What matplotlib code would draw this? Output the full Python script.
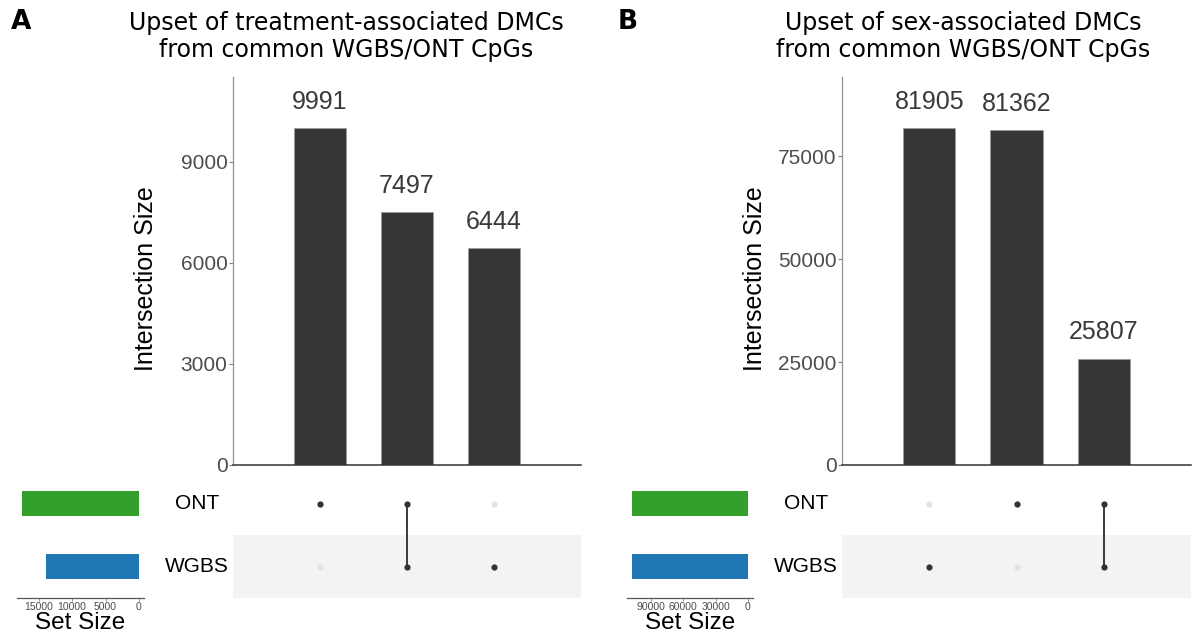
import matplotlib
matplotlib.use("Agg")
import matplotlib.pyplot as plt
import matplotlib.transforms as mtransforms

# ---- data ----
set_names = ["ONT", "WGBS"]
set_colors = ["#33a02c", "#1f78b4"]

a_sizes = [9991, 7497, 6444]
a_members = [["ONT"], ["ONT", "WGBS"], ["WGBS"]]
a_yticks = [0, 3000, 6000, 9000]
a_setticks = [0, 5000, 10000, 15000]

b_sizes = [81905, 81362, 25807]
b_members = [["WGBS"], ["ONT"], ["ONT", "WGBS"]]
b_yticks = [0, 25000, 50000, 75000]
b_setticks = [0, 30000, 60000, 90000]

W, H = 1192, 639
NUM_FONT = "Liberation Sans"
DARK = "#363636"
TICK_GREY = "#4d4d4d"


def fx(px):
    return px / W


def fy(py):
    return 1 - py / H


def draw_panel(fig, sizes, members, yticks, setticks, ylim_top, set_xlim,
               bar_left, bar_right, set_left, set_right, title, title_x,
               letter, letter_x):
    # intersection bars
    ax = fig.add_axes([fx(bar_left), fy(465), fx(bar_right - bar_left), (465 - 77) / H])
    xs = list(range(len(sizes)))
    ax.bar(xs, sizes, width=0.6, color=DARK, edgecolor="#9a9a9a", linewidth=0.4)
    for x, v in zip(xs, sizes):
        ax.annotate(str(v), (x, v), xytext=(0, 19), textcoords="offset points",
                    ha="center", va="center", fontsize=18, family=NUM_FONT,
                    color="#3a3a3a")
    ax.set_xlim(-1, len(sizes))
    ax.set_ylim(0, ylim_top)
    ax.set_xticks([])
    ax.set_yticks(yticks)
    ax.set_yticklabels([str(t) for t in yticks], family=NUM_FONT, fontsize=15,
                       color=TICK_GREY)
    ax.tick_params(axis="y", length=3, width=0.8, color="#808080", pad=1)
    for s in ["top", "right"]:
        ax.spines[s].set_visible(False)
    ax.spines["left"].set_color("#909090")
    ax.spines["left"].set_linewidth(0.9)
    ax.spines["bottom"].set_color("#333333")
    ax.spines["bottom"].set_linewidth(1.1)
    ax.set_ylabel("Intersection Size", family=NUM_FONT, fontsize=18, color="black")
    ax.yaxis.set_label_coords(-0.215, 0.48)

    # matrix
    mx = fig.add_axes([fx(bar_left), fy(598), fx(bar_right - bar_left), 126 / H])
    rows = {name: len(set_names) - 1 - i for i, name in enumerate(set_names)}
    mx.axhspan(-0.5, 0.5, color="#f3f3f3", zorder=0, lw=0)
    for x, mem in zip(xs, members):
        for name in set_names:
            mx.scatter([x], [rows[name]], s=20, color="#e3e3e3", zorder=2, lw=0)
        ys = [rows[m] for m in mem]
        if len(ys) > 1:
            mx.plot([x, x], [min(ys), max(ys)], color="#3a3a3a", lw=1.4, zorder=3)
        mx.scatter([x] * len(ys), ys, s=20, color="#333333", zorder=4, lw=0)
    mx.set_xlim(-1, len(sizes))
    mx.set_ylim(-0.5, len(set_names) - 0.5)
    mx.axis("off")
    trans = mtransforms.blended_transform_factory(mx.transAxes, mx.transData)
    label_x = (set_right + 53 - bar_left) / (bar_right - bar_left)
    for name in set_names:
        mx.text(label_x, rows[name], name, transform=trans, ha="center", va="center",
                family=NUM_FONT, fontsize=15, color="black")

    # set sizes
    sx = fig.add_axes([fx(set_left), fy(598), fx(set_right - set_left), 126 / H])
    set_sizes = [sum(v for v, mem in zip(sizes, members) if name in mem)
                 for name in set_names]
    sx.barh([rows[n] for n in set_names], set_sizes, height=0.41, color=set_colors)
    sx.set_xlim(*set_xlim)
    sx.set_ylim(-0.5, len(set_names) - 0.5)
    sx.set_yticks([])
    sx.set_xticks(setticks)
    sx.set_xticklabels([str(t) for t in setticks], family=NUM_FONT, fontsize=7.5,
                       color=TICK_GREY)
    sx.tick_params(axis="x", length=2, width=0.6, color="#808080", pad=1)
    for s in ["top", "right", "left"]:
        sx.spines[s].set_visible(False)
    sx.spines["bottom"].set_color("#555555")
    sx.spines["bottom"].set_linewidth(0.9)
    sx.set_xlabel("Set Size", family=NUM_FONT, fontsize=17.5, color="black", labelpad=0)

    fig.text(fx(title_x), fy(36.5), title, ha="center", va="center", fontsize=17,
             family="DejaVu Sans", linespacing=1.12)
    fig.text(fx(letter_x), fy(22), letter, ha="center", va="center", fontsize=19,
             fontweight="heavy", family="DejaVu Sans")


fig = plt.figure(figsize=(W / 100, H / 100), dpi=100)

draw_panel(fig, a_sizes, a_members, a_yticks, a_setticks, 11520, (18240, -750),
           233, 581, 17, 144,
           "Upset of treatment-associated DMCs\nfrom common WGBS/ONT CpGs", 346,
           "A", 21)

draw_panel(fig, b_sizes, b_members, b_yticks, b_setticks, 94300, (112000, -4630),
           842, 1191, 627, 753,
           "Upset of sex-associated DMCs\nfrom common WGBS/ONT CpGs", 963,
           "B", 628)

fig.savefig("out.png", dpi=100, facecolor="white")
